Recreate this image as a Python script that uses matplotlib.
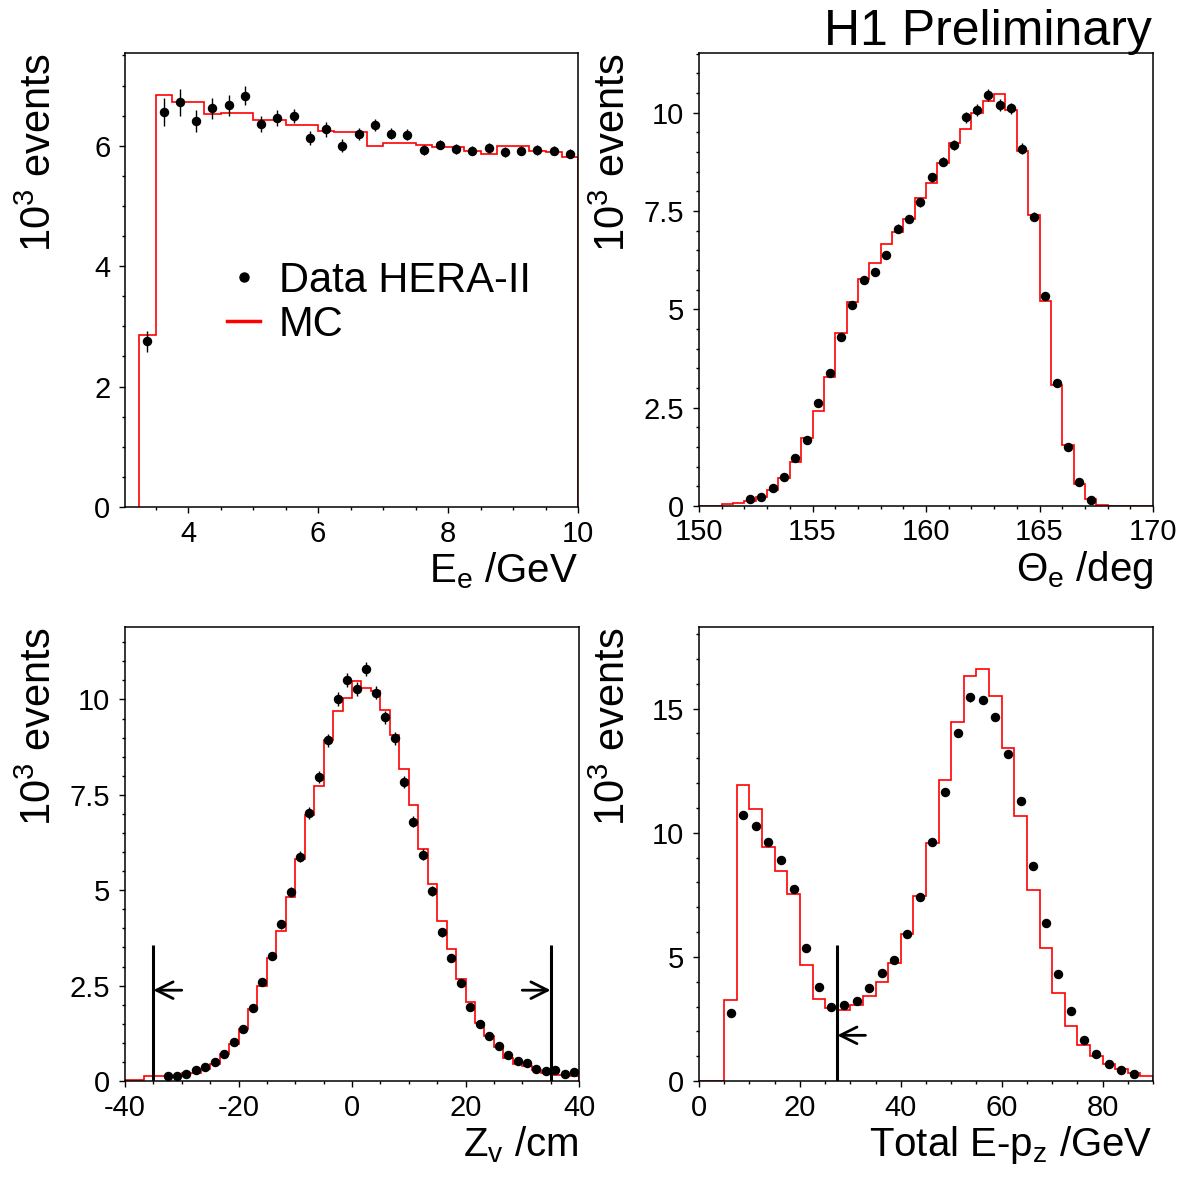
import numpy as np
import matplotlib
matplotlib.use('Agg')
import matplotlib.pyplot as plt
from matplotlib.ticker import MultipleLocator, FixedLocator, FuncFormatter
from matplotlib.lines import Line2D

plt.rcParams['font.family'] = ['Liberation Sans', 'DejaVu Sans']
plt.rcParams['mathtext.fontset'] = 'custom'
plt.rcParams['mathtext.rm'] = 'Liberation Sans'
plt.rcParams['mathtext.it'] = 'Liberation Sans'

# ---------------- Panel 1: E_e ----------------
ee_edges = np.arange(3.25, 10.001, 0.25)
ee_mc = [2.85, 6.84, 6.72, 6.72, 6.53, 6.55, 6.55, 6.43, 6.43, 6.34, 6.34, 6.25, 6.23, 6.23,
         6.00, 6.04, 6.04, 6.01, 5.98, 5.98, 5.91, 5.87, 5.99, 5.99, 5.91, 5.89, 5.81]
ee_data = [2.75, 6.56, 6.72, 6.41, 6.62, 6.67, 6.83, 6.36, 6.46, 6.49, 6.13, 6.27, 6.00, 6.19,
           6.35, 6.20, 6.18, 5.93, 6.02, 5.95, 5.92, 5.96, 5.90, 5.92, 5.93, 5.92, 5.87]
ee_err = [0.17, 0.24, 0.22, 0.19, 0.18, 0.17, 0.16, 0.14, 0.13, 0.12, 0.12, 0.12, 0.11, 0.10,
          0.10, 0.09, 0.09, 0.08, 0.08, 0.08, 0.08, 0.08, 0.08, 0.08, 0.08, 0.08, 0.07]

# ---------------- Panel 2: Theta_e ----------------
th_edges = np.arange(150.0, 170.001, 0.5)
th_mc = [0.01, 0.01, 0.04, 0.07, 0.13, 0.24, 0.41, 0.70, 1.11, 1.74, 2.42, 3.28, 4.40, 5.18,
         5.78, 6.19, 6.66, 6.96, 7.29, 7.84, 8.22, 8.73, 9.23, 9.60, 9.99, 10.31, 10.47, 10.08,
         9.03, 7.39, 5.21, 3.08, 1.54, 0.57, 0.19, 0.03, 0.0, 0.0, 0.0, 0.0]
th_centers = np.arange(152.25, 167.3, 0.5)
th_data = [0.17, 0.24, 0.45, 0.75, 1.23, 1.68, 2.62, 3.38, 4.29, 5.11, 5.75, 5.95, 6.38, 7.05,
           7.30, 7.72, 8.36, 8.76, 9.18, 9.88, 10.08, 10.46, 10.19, 10.11, 9.08, 7.36, 5.35,
           3.12, 1.51, 0.60, 0.15]
th_err = [0.03, 0.04, 0.05, 0.06, 0.07, 0.07, 0.08, 0.09, 0.09, 0.10, 0.10, 0.10, 0.11, 0.11,
          0.11, 0.12, 0.12, 0.12, 0.13, 0.14, 0.15, 0.15, 0.15, 0.15, 0.14, 0.12, 0.10, 0.08,
          0.06, 0.04, 0.02]

# ---------------- Panel 3: Z_v ----------------
zv_edges = np.linspace(-40.0, 40.0, 49)
zv_mc = [0.03, 0.03, 0.14, 0.14, 0.14, 0.14, 0.21, 0.21, 0.31, 0.45, 0.72, 0.96, 1.37, 1.90,
         2.49, 3.22, 3.92, 4.83, 5.81, 6.97, 7.73, 8.93, 9.69, 10.03, 10.48, 10.30, 10.22,
         9.72, 9.08, 8.19, 7.23, 6.09, 5.16, 4.20, 3.47, 2.67, 2.06, 1.53, 1.17, 0.89, 0.60,
         0.45, 0.39, 0.30, 0.21, 0.17, 0.15, 0.12]
zv_data = [0.14, 0.13, 0.19, 0.28, 0.38, 0.49, 0.72, 1.01, 1.37, 1.92, 2.59, 3.27, 4.11, 4.95,
           5.88, 7.03, 7.97, 8.93, 10.02, 10.52, 10.27, 10.80, 10.18, 9.53, 8.98, 7.84, 6.80,
           5.93, 4.97, 3.90, 3.23, 2.57, 1.93, 1.49, 1.17, 0.91, 0.68, 0.52, 0.46, 0.31, 0.25,
           0.28, 0.18, 0.23]
zv_err = [0.03, 0.03, 0.04, 0.04, 0.05, 0.05, 0.06, 0.07, 0.08, 0.09, 0.10, 0.11, 0.12, 0.13,
          0.14, 0.15, 0.16, 0.17, 0.18, 0.18, 0.18, 0.18, 0.18, 0.17, 0.17, 0.16, 0.15, 0.14,
          0.13, 0.12, 0.11, 0.10, 0.09, 0.08, 0.07, 0.07, 0.06, 0.05, 0.05, 0.04, 0.04, 0.04,
          0.03, 0.03]
zv_cuts = [-35.0, 35.0]
zv_cut_top = 3.56
zv_arrow_y = 2.38
zv_arrow_len = 5.0

# ---------------- Panel 4: E - pz ----------------
epz_edges = np.arange(0.0, 90.001, 2.5)
epz_mc = [0.0, 0.0, 3.28, 11.94, 10.94, 9.44, 8.44, 7.53, 4.69, 3.31, 2.94, 2.85, 3.05, 3.43,
          3.97, 4.77, 5.93, 7.46, 9.60, 12.14, 14.45, 16.30, 16.61, 15.51, 13.41, 10.67, 7.69,
          5.34, 3.53, 2.23, 1.47, 1.01, 0.67, 0.47, 0.34, 0.22]
epz_centers = np.arange(6.25, 86.3, 2.5)
epz_data = [2.73, 10.71, 10.26, 9.61, 8.92, 7.73, 5.34, 3.79, 2.97, 3.05, 3.21, 3.74, 4.35,
            4.87, 5.91, 7.43, 9.61, 11.64, 14.02, 15.46, 15.35, 14.66, 13.16, 11.29, 8.66,
            6.38, 4.33, 2.82, 1.65, 1.10, 0.69, 0.43, 0.28]
epz_err = [0.08, 0.15, 0.14, 0.14, 0.13, 0.12, 0.11, 0.09, 0.08, 0.08, 0.08, 0.09, 0.10,
           0.10, 0.11, 0.12, 0.14, 0.15, 0.17, 0.18, 0.18, 0.17, 0.16, 0.15, 0.13, 0.11,
           0.09, 0.08, 0.06, 0.05, 0.04, 0.03, 0.03]
epz_cut = 27.4
epz_cut_top = 5.47
epz_arrow_y = 1.84
epz_arrow_len = 5.6

W, H = 1189, 1178
fig = plt.figure(figsize=(W / 100, H / 100), dpi=100)


def px_axes(x0, y0, x1, y1):
    return fig.add_axes([x0 / W, 1 - y1 / H, (x1 - x0) / W, (y1 - y0) / H])


fmt = FuncFormatter(lambda v, p: ('%g' % v))

TICK_FS = 21
YLAB_FS = 30
XLAB_FS = 29


def style(ax, xlim, ylim, xmaj, xmin_, ymaj, ymin_, xlabel, xticks=None):
    ax.set_xlim(*xlim)
    ax.set_ylim(*ylim)
    if xticks is not None:
        ax.xaxis.set_major_locator(FixedLocator(xticks))
    else:
        ax.xaxis.set_major_locator(MultipleLocator(xmaj))
    ax.xaxis.set_minor_locator(MultipleLocator(xmin_))
    ax.yaxis.set_major_locator(MultipleLocator(ymaj))
    ax.yaxis.set_minor_locator(MultipleLocator(ymin_))
    ax.xaxis.set_major_formatter(fmt)
    ax.yaxis.set_major_formatter(fmt)
    ax.tick_params(which='both', direction='out', top=False, right=False,
                   labelsize=TICK_FS, width=1.0)
    ax.tick_params(which='major', length=4.5)
    ax.tick_params(which='minor', length=2.3)
    ax.tick_params(axis='x', which='major', pad=4.5)
    ax.tick_params(axis='y', which='major', pad=6)
    for s in ax.spines.values():
        s.set_linewidth(1.1)
    ax.set_ylabel(r'$\mathregular{10^{3}}$ events', fontsize=YLAB_FS, loc='top')
    ax.yaxis.set_label_coords(-0.143, 1.0)
    ax.set_xlabel(xlabel, fontsize=XLAB_FS, loc='right')
    ax.xaxis.set_label_coords(1.0, -0.165)
    ax.xaxis.label.set_va('baseline')


def draw(ax, edges, mc, centers, data, err):
    ax.stairs(mc, edges, baseline=0, color='red', lw=1.2, zorder=2)
    ax.errorbar(centers, data, yerr=err, fmt='o', color='black', ms=5.8,
                elinewidth=1.0, capsize=0, zorder=3)


# Panel 1
ax1 = px_axes(125, 53, 578, 507)
ee_centers = (ee_edges[:-1] + ee_edges[1:]) / 2
draw(ax1, ee_edges, ee_mc, ee_centers, ee_data, ee_err)
style(ax1, (3.03, 10.0), (0, 7.54), 2, 0.5, 2, 0.5, r'$\mathregular{E_e}$ /GeV',
      xticks=[4, 6, 8, 10])
handles = [Line2D([], [], ls='none', marker='o', color='black', ms=6.5),
           Line2D([], [], color='red', lw=2.5)]
ax1.legend(handles, ['Data HERA-II', 'MC'], loc='center left',
           bbox_to_anchor=(0.225, 0.45), frameon=False, fontsize=30,
           handlelength=0.8, handletextpad=0.45, labelspacing=0.1, borderpad=0,
           borderaxespad=0)

# Panel 2
ax2 = px_axes(699, 53, 1153, 506)
draw(ax2, th_edges, th_mc, th_centers, th_data, th_err)
style(ax2, (150, 170), (0, 11.52), 5, 1, 2.5, 0.5, r'$\mathregular{Θ_e}$ /deg')

# Panel 3
ax3 = px_axes(125, 627, 579, 1081)
zv_centers = (zv_edges[4:-1] + zv_edges[5:]) / 2
draw(ax3, zv_edges, zv_mc, zv_centers, zv_data, zv_err)
style(ax3, (-40, 40), (0, 11.9), 20, 5, 2.5, 0.5, r'$\mathregular{Z_v}$ /cm')
ax3.vlines(zv_cuts, 0, zv_cut_top, color='black', lw=2.2, zorder=4)
for c in zv_cuts:
    sgn = 1 if c > 0 else -1
    ax3.annotate('', xy=(c, zv_arrow_y), xytext=(c - sgn * zv_arrow_len, zv_arrow_y),
                 arrowprops=dict(arrowstyle='->', lw=2.0, color='black',
                                 mutation_scale=30, shrinkA=0, shrinkB=0), zorder=4)

# Panel 4
ax4 = px_axes(699, 627, 1153, 1081)
draw(ax4, epz_edges, epz_mc, epz_centers, epz_data, epz_err)
style(ax4, (0, 90), (0, 18.29), 20, 5, 5, 1, r'Total E-$\mathregular{p_z}$ /GeV')
ax4.vlines([epz_cut], 0, epz_cut_top, color='black', lw=2.2, zorder=4)
ax4.annotate('', xy=(epz_cut, epz_arrow_y), xytext=(epz_cut + epz_arrow_len, epz_arrow_y),
             arrowprops=dict(arrowstyle='->', lw=2.0, color='black',
                             mutation_scale=30, shrinkA=0, shrinkB=0), zorder=4)

fig.text(1152 / W, 1 - 45 / H, 'H1 Preliminary', ha='right', va='baseline', fontsize=36)

fig.savefig('out.png', dpi=100)
